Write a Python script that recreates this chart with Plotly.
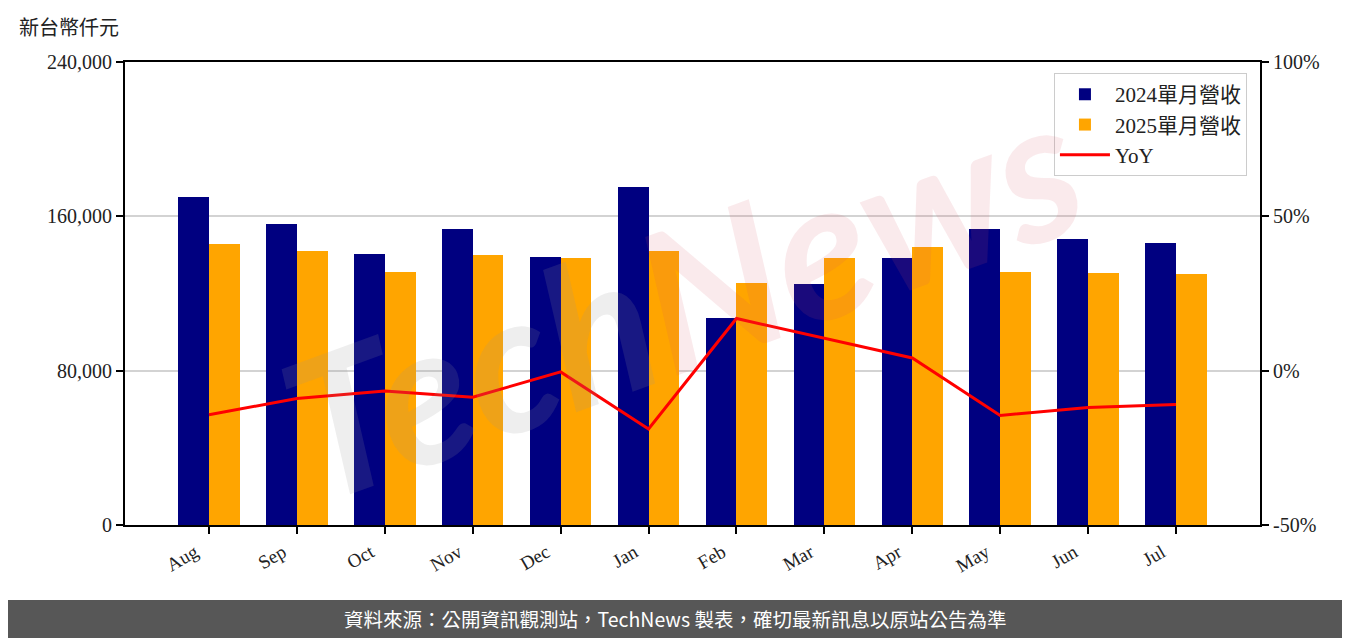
import plotly.graph_objects as go

months = ["Aug", "Sep", "Oct", "Nov", "Dec", "Jan", "Feb", "Mar", "Apr", "May", "Jun", "Jul"]
rev_2024 = [170000, 156000, 140500, 153400, 138900, 175200, 107300, 124900, 138400, 153400, 148300, 146200]
rev_2025 = [145700, 142000, 131100, 140000, 138400, 142000, 125400, 138400, 144100, 131100, 130600, 130100]
yoy = [-14.3, -9.0, -6.6, -8.6, -0.4, -18.9, 16.9, 10.5, 4.1, -14.5, -11.9, -11.0]
y_ticks = [0, 80000, 160000, 240000]
y2_ticks = [-50, 0, 50, 100]
y2_labels = ["-50%", "0%", "50%", "100%"]

x = list(range(len(months)))
SERIF = "Liberation Serif, Noto Sans CJK TC, serif"
CJK = "Noto Sans CJK TC, sans-serif"

fig = go.Figure()
fig.add_trace(go.Bar(x=x, y=rev_2024, name="2024單月營收", marker=dict(color="#000080", line_width=0),
                     offset=-0.35, width=0.35))
fig.add_trace(go.Bar(x=x, y=rev_2025, name="2025單月營收", marker=dict(color="#FFA500", line_width=0),
                     offset=0, width=0.35))
fig.add_trace(go.Scatter(x=x, y=yoy, name="YoY", mode="lines", line=dict(color="#FF0000", width=3),
                         yaxis="y2"))

# page body has an 8px margin: figure is 1342x630 so that it fills the 1350x638 window
fig.update_layout(
    width=1342, height=630,
    margin=dict(l=117, r=90, t=54, b=113),
    paper_bgcolor="white", plot_bgcolor="white",
    showlegend=True,
    legend=dict(x=0.9885, y=0.976, xanchor="right", yanchor="top",
                bordercolor="#cccccc", borderwidth=1, bgcolor="rgba(255,255,255,0.8)",
                font=dict(family=SERIF, size=21, color="#222"), itemwidth=50,
                tracegroupgap=2),
    xaxis=dict(range=[-0.955, 11.955], tickvals=x, ticktext=months, tickangle=-30,
               showline=True, linecolor="black", linewidth=2, mirror=True,
               ticks="outside", ticklen=7, tickwidth=1.5, tickcolor="black",
               showgrid=False, zeroline=False, ticklabelshift=-14,
               tickfont=dict(family=SERIF, size=19, color="#222")),
    yaxis=dict(range=[0, 240000], tickvals=y_ticks, tickformat=",d",
               showline=True, linecolor="black", linewidth=2,
               ticks="outside", ticklen=7, tickwidth=1.5, tickcolor="black",
               showgrid=True, gridcolor="#d3d3d3", gridwidth=1.5, zeroline=False,
               tickfont=dict(family=SERIF, size=20, color="#222")),
    yaxis2=dict(range=[-50, 100], tickvals=y2_ticks, ticktext=y2_labels, overlaying="y", side="right",
                showline=True, linecolor="black", linewidth=2,
                ticks="outside", ticklen=7, tickwidth=1.5, tickcolor="black",
                showgrid=False, zeroline=False,
                tickfont=dict(family=SERIF, size=20, color="#222")),
    bargap=0,
)

fig.add_annotation(xref="paper", yref="paper", x=-0.095, y=1.0756, xanchor="left", yanchor="middle",
                   text="新台幣仟元", showarrow=False, font=dict(family=CJK, size=20, color="#222"))

# watermark
fig.add_annotation(xref="paper", yref="paper", x=0.49, y=0.5, xanchor="center", yanchor="middle",
                   text="<span style='color:rgba(150,150,150,0.16)'>Tech</span><span style='color:rgba(215,80,95,0.12)'>News</span>",
                   showarrow=False, textangle=-20,
                   font=dict(family="Lato, sans-serif", size=195, style="italic", weight="bold"))

# footer bar
fig.add_shape(type="rect", xref="paper", yref="paper", x0=-0.12, x1=1.09, y0=-0.26, y1=-0.162,
              fillcolor="#575757", line_width=0, layer="above")
fig.add_annotation(xref="paper", yref="paper", x=0.4846, y=-0.203, xanchor="center", yanchor="middle",
                   text="資料來源：公開資訊觀測站，TechNews 製表，確切最新訊息以原站公告為準",
                   showarrow=False, font=dict(family=CJK, size=19.5, color="white"))

fig.write_html("out.html")
